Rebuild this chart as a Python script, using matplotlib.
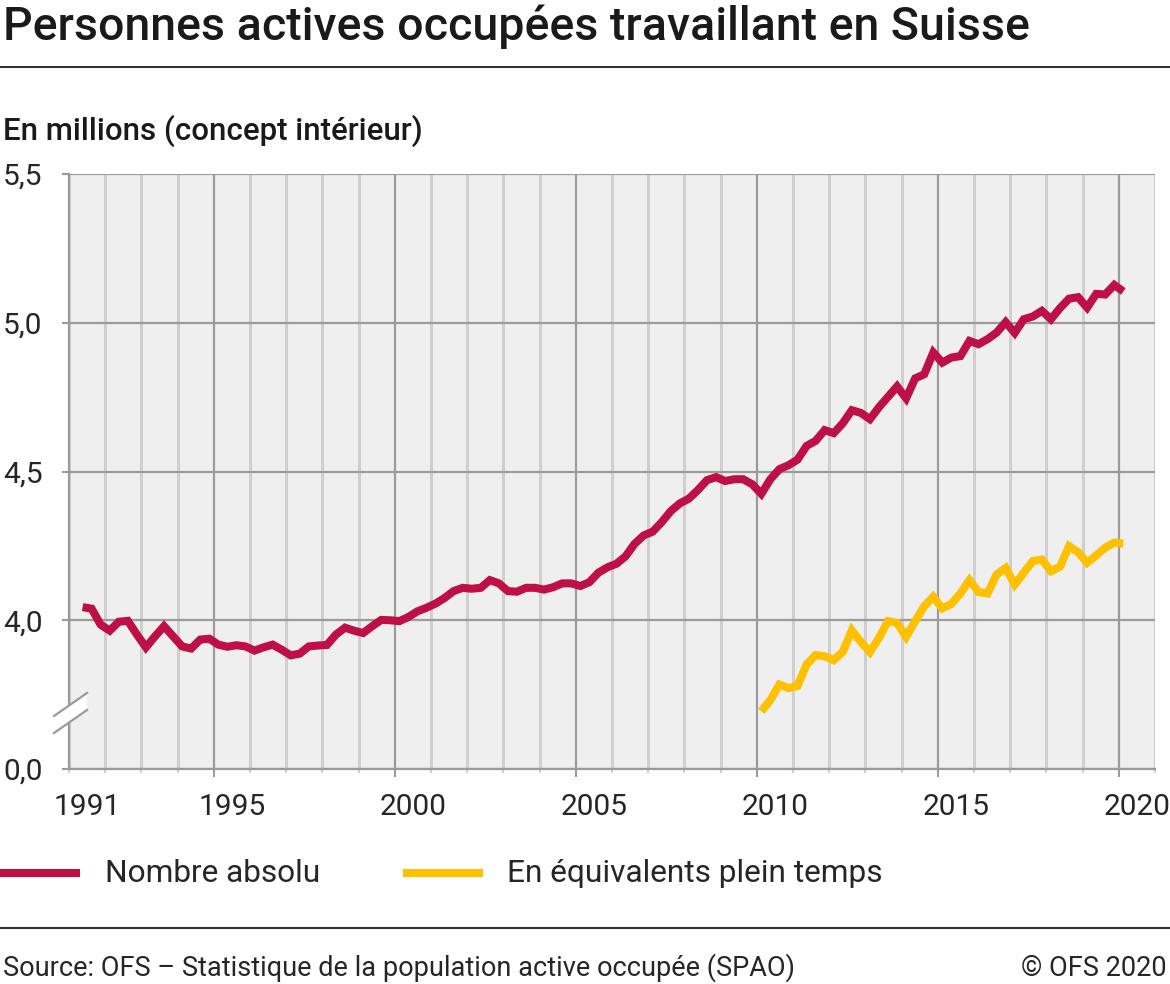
import matplotlib
matplotlib.use("Agg")
import matplotlib.pyplot as plt
import matplotlib.transforms as mtransforms
from matplotlib.lines import Line2D
from matplotlib.patches import Polygon
import numpy as np
import pandas as pd

# quarterly data, millions (concept intérieur)
red_quarters = pd.period_range("1991Q2", "2020Q1", freq="Q")
red_values = [
    4.044, 4.039, 3.985,
    3.965, 3.995, 3.998, 3.952,
    3.909, 3.946, 3.980, 3.946,
    3.912, 3.905, 3.935, 3.938,
    3.918, 3.911, 3.916, 3.912,
    3.898, 3.909, 3.918, 3.901,
    3.882, 3.888, 3.912, 3.915,
    3.917, 3.952, 3.975, 3.965,
    3.957, 3.980, 4.001, 4.000,
    3.997, 4.011, 4.030, 4.042,
    4.056, 4.075, 4.098, 4.109,
    4.106, 4.109, 4.135, 4.124,
    4.098, 4.096, 4.109, 4.109,
    4.103, 4.111, 4.124, 4.124,
    4.115, 4.128, 4.160, 4.178,
    4.190, 4.215, 4.257, 4.285,
    4.298, 4.330, 4.367, 4.393,
    4.409, 4.438, 4.471, 4.481,
    4.468, 4.474, 4.474, 4.457,
    4.425, 4.474, 4.508, 4.521,
    4.540, 4.586, 4.603, 4.639,
    4.629, 4.662, 4.706, 4.697,
    4.676, 4.716, 4.751, 4.786,
    4.746, 4.813, 4.827, 4.900,
    4.866, 4.883, 4.888, 4.939,
    4.928, 4.945, 4.967, 5.002,
    4.966, 5.012, 5.021, 5.040,
    5.012, 5.049, 5.081, 5.086,
    5.051, 5.097, 5.095, 5.127,
    5.105,
]

yellow_quarters = pd.period_range("2010Q1", "2020Q1", freq="Q")
yellow_values = [
    3.694, 3.732, 3.784, 3.772,
    3.779, 3.851, 3.883, 3.879,
    3.866, 3.894, 3.966, 3.927,
    3.893, 3.941, 3.997, 3.991,
    3.944, 3.997, 4.047, 4.079,
    4.040, 4.055, 4.090, 4.135,
    4.095, 4.090, 4.154, 4.176,
    4.120, 4.160, 4.199, 4.204,
    4.165, 4.180, 4.249, 4.229,
    4.193, 4.218, 4.244, 4.261,
    4.258,
]

series_names = ["Nombre absolu", "En équivalents plein temps"]
x_label_years = [1991, 1995, 2000, 2005, 2010, 2015, 2020]
y_ticks = [3.5, 4.0, 4.5, 5.0, 5.5]
y_tick_labels = ["0,0", "4,0", "4,5", "5,0", "5,5"]

RED = "#BE0F47"
YELLOW = "#FFC000"
BG = "#EFEFEF"
GRID_MAJ = "#9B9B9B"
GRID_MIN = "#CFCFCF"
TXT = "#262626"

plt.rcParams['font.family'] = ['Roboto', 'DejaVu Sans']


def qx(periods):
    # middle of each quarter
    return np.array([p.year + (p.quarter - 0.5) / 4 for p in periods])


fig = plt.figure(figsize=(11.7, 9.84), dpi=100)
W, H = 1170, 984
ax = fig.add_axes([69 / W, 1 - 769 / H, (1155 - 69) / W, (769 - 174) / H])
ax.set_facecolor(BG)

ax.plot(qx(red_quarters), red_values, color=RED, lw=5.8,
        solid_joinstyle="miter", solid_capstyle="butt", zorder=3)
ax.plot(qx(yellow_quarters), yellow_values, color=YELLOW, lw=5.8,
        solid_joinstyle="miter", solid_capstyle="butt", zorder=3)

ax.set_xlim(1991, 2021)
ax.set_ylim(3.5, 5.5)

all_years = np.arange(1991, 2022)
major_years = [y for y in all_years if y % 5 == 0]
ax.set_xticks(major_years)
ax.set_xticks(all_years, minor=True)
ax.tick_params(axis="x", which="major", length=6, width=1.5, color=GRID_MAJ,
               labelbottom=False)
ax.tick_params(axis="x", which="minor", length=3, width=1.5, color=GRID_MIN)
ax.grid(which="minor", axis="x", color=GRID_MIN, lw=2.2, zorder=0)
ax.grid(which="major", axis="x", color=GRID_MAJ, lw=1.6, zorder=1)

ax.set_yticks(y_ticks)
ax.set_yticklabels(y_tick_labels)
ax.tick_params(axis="y", length=5, width=1.5, color=GRID_MAJ, pad=14,
               labelsize=21.5, labelcolor=TXT)
ax.grid(which="major", axis="y", color=GRID_MAJ, lw=1.6, zorder=1)
ax.set_axisbelow(True)

for s in ["top", "right"]:
    ax.spines[s].set_visible(False)
for s in ["left", "bottom"]:
    ax.spines[s].set_color(GRID_MAJ)
    ax.spines[s].set_linewidth(1.6)

# year labels centred in the year
trans = mtransforms.blended_transform_factory(ax.transData, ax.transAxes)
for yr in x_label_years:
    ax.text(yr + 0.5, -0.04, str(yr), transform=trans, ha="center", va="top",
            fontsize=21.5, color=TXT)

# axis break on the left
def ax_pt(px, py):
    return ((px - 69) / 1086, (769 - py) / 595)

brk = Polygon([ax_pt(54, 716), ax_pt(87, 693), ax_pt(87, 710), ax_pt(54, 733)],
              closed=True, transform=ax.transAxes, facecolor="white",
              edgecolor="none", clip_on=False, zorder=4)
ax.add_patch(brk)
for y0 in (716, 733):
    p0 = ax_pt(54, y0)
    p1 = ax_pt(87, y0 - 23)
    ax.add_line(Line2D([p0[0], p1[0]], [p0[1], p1[1]], transform=ax.transAxes,
                       color=GRID_MAJ, lw=1.6, clip_on=False, zorder=5))

# titles
fig.text(3 / W, 1 - 40 / H, "Personnes actives occupées travaillant en Suisse",
         fontsize=33.5, fontweight="medium", color="#1a1a1a", va="baseline")
fig.add_artist(Line2D([0, 1], [1 - 67 / H, 1 - 67 / H], color="#333333", lw=1.5))
fig.text(3 / W, 1 - 140 / H, "En millions (concept intérieur)",
         fontsize=22.5, fontweight="medium", color="#1a1a1a", va="baseline")

# legend
ly = 1 - 873 / H
fig.add_artist(Line2D([0, 80 / W], [ly, ly], color=RED, lw=5.8,
                      solid_capstyle="butt"))
fig.text(105 / W, ly, series_names[0], fontsize=22.8, color=TXT, va="center")
fig.add_artist(Line2D([403 / W, 483 / W], [ly, ly], color=YELLOW, lw=5.8,
                      solid_capstyle="butt"))
fig.text(507 / W, ly, series_names[1], fontsize=22.8, color=TXT, va="center")

# footer
fig.add_artist(Line2D([0, 1], [1 - 928 / H, 1 - 928 / H], color="#333333", lw=1.5))
fig.text(3 / W, 1 - 968 / H,
         "Source: OFS – Statistique de la population active occupée (SPAO)",
         fontsize=19.5, color=TXT, va="center")
fig.text(1 - 3 / W, 1 - 968 / H, "© OFS 2020", fontsize=19.5, color=TXT,
         va="center", ha="right")

fig.savefig("out.png", dpi=100)
